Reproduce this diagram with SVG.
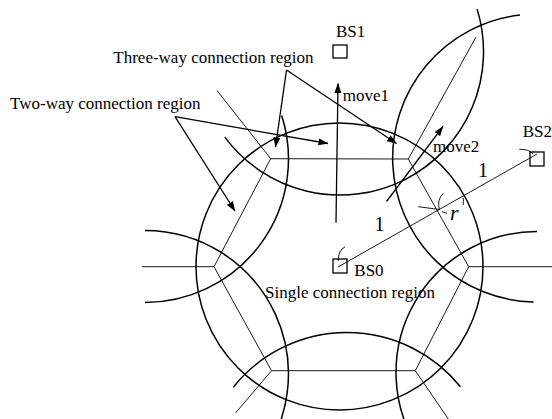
<svg xmlns="http://www.w3.org/2000/svg" width="552" height="419" viewBox="0 0 552 419">
<defs>
<marker id="ah" markerUnits="userSpaceOnUse" markerWidth="10" markerHeight="7" refX="9.5" refY="3.5" orient="auto">
<path d="M0,0 L10,3.5 L0,7 z" fill="#000"/>
</marker>
<style>
.c{fill:none;stroke:#000;stroke-width:1.5}
.h{fill:none;stroke:#000;stroke-width:0.9}
.a{fill:none;stroke:#000;stroke-width:1.3;marker-end:url(#ah)}
.m{fill:none;stroke:#000;stroke-width:0.9}
.bs{fill:#fff;stroke:#000;stroke-width:1.3}
text{font-family:"Liberation Serif","Times New Roman",serif;font-size:17px;fill:#000}
.big{font-size:20px}
.it{font-size:22px;font-style:italic}
</style>
</defs>
<rect width="552" height="419" fill="#fff"/>
<g id="cells">
<circle class="c" cx="339.5" cy="266.5" r="143.5"/>
<path class="c" d="M224.8,137.1 A143.5,143.5 0 0 0 477.1,9.1"/>
<path class="c" d="M520,15 A144,144 0 0 0 533.5,302"/>
<path class="c" d="M281.7,115.4 A143.5,143.5 0 0 1 145,302.5"/>
<path class="c" d="M145,230.5 A143.5,143.5 0 0 1 254.9,466.2"/>
<path class="c" d="M537,231.5 A141,141 0 0 0 414.9,443"/>
<path class="c" d="M233.3,387.2 A145.5,145.5 0 0 1 460.4,386.8"/>
<polygon class="h" points="270.7,158.7 408.3,159 468.7,266.7 415.3,370.7 271.5,370.7 214,266.7"/>
<line class="h" x1="270.7" y1="158.7" x2="217" y2="90.5"/>
<line class="h" x1="408.3" y1="159" x2="476" y2="37"/>
<line class="h" x1="468.7" y1="266.7" x2="552" y2="266.7"/>
<line class="h" x1="415.3" y1="370.7" x2="448.3" y2="419"/>
<line class="h" x1="271.5" y1="370.7" x2="235.5" y2="413"/>
<line class="h" x1="214" y1="266.7" x2="142" y2="266.7"/>
</g>
<g id="BS1">
<rect class="bs" x="333" y="45" width="14" height="13"/>
<text x="336" y="37">BS1</text>
</g>
<g id="BS2">
<rect class="bs" x="530" y="152" width="14" height="14"/>
<text x="522.7" y="137">BS2</text>
</g>
<g id="BS0">
<rect class="bs" x="333" y="259" width="14" height="14"/>
<text x="354.3" y="276">BS0</text>
</g>
<g id="labels">
<text x="113.3" y="62.5">Three-way connection region</text>
<text x="10" y="109">Two-way connection region</text>
<text x="265" y="298">Single connection region</text>
<text x="342.7" y="101">move1</text>
<text x="433" y="152">move2</text>
<text class="big" x="478" y="177">1</text>
<text class="big" x="374.5" y="231">1</text>
<text class="it" x="450" y="220">r</text>
</g>
<g id="connectors">
<line class="a" x1="286.5" y1="70" x2="275.5" y2="147"/>
<line class="a" x1="286.5" y1="70" x2="396.5" y2="143.5"/>
<line class="a" x1="175" y1="116.7" x2="328" y2="143.5"/>
<line class="a" x1="175" y1="116.7" x2="235" y2="211"/>
<line class="a" x1="336" y1="222.7" x2="338" y2="83.5"/>
<line class="a" x1="386.5" y1="201.5" x2="443" y2="126.5"/>
<line class="m" x1="338" y1="267" x2="537" y2="154"/>
<path class="m" d="M345.3,246.7 Q338,250 338.3,261"/>
<path class="m" d="M519.3,149.3 Q529,149 533,154"/>
<line class="m" x1="418.3" y1="206.7" x2="439.5" y2="209.5"/>
<path class="m" d="M443.3,193.3 Q436.5,200 439.5,210"/>
<line class="m" x1="441.7" y1="211.7" x2="447" y2="213.3"/>
<line class="m" x1="463.3" y1="198" x2="463.3" y2="205"/>
</g>
</svg>
